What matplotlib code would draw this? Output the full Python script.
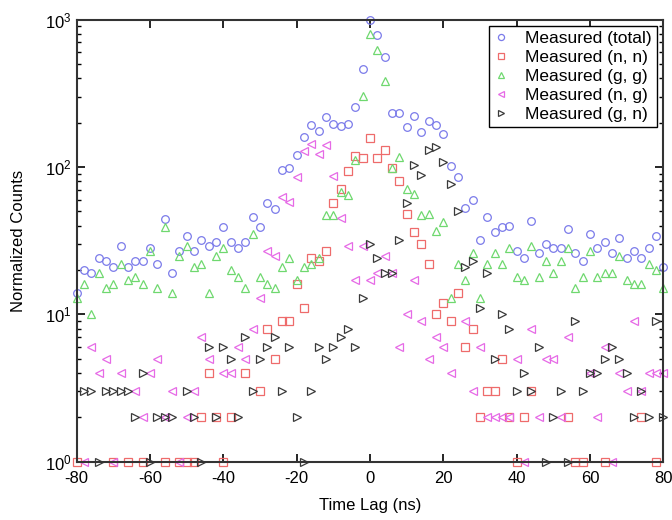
import numpy as np
import matplotlib
matplotlib.use("Agg")
import matplotlib.pyplot as plt

plt.rcParams['font.family'] = ['Liberation Sans', 'DejaVu Sans']
plt.rcParams['axes.unicode_minus'] = False

n = np.nan
time_lag = np.arange(-80, 81, 2)

total = [14, 20, 19, 24, 23, 21, 29, 21, 23, 23, 28, 22, 44, 19, 27, 34, 27, 32, 29, 31,
         39, 31, 28, 31, 46, 39, 57, 52, 96, 98, 121, 160, 191, 175, 218, 197, 190, 195, 253, 458,
         1000, 782, 557, 232, 232, 186, 221, 172, 206, 191, 168, 101, 86, 53, 60, 32, 46, 36, 39, 40,
         27, 24, 43, 26, 30, 28, 28, 38, 26, 23, 35, 28, 31, 26, 33, 24, 27, 24, 28, 34, 21]

nn = [1, n, n, n, n, 1, n, 1, n, 1, n, n, 1, n, 1, 1, 1, 2, 4, 2,
      1, 2, n, 4, n, 3, 8, 5, 9, 9, 16, 11, 24, 23, 27, 57, 71, 94, 118, 115,
      156, 115, 130, 98, 80, 48, 36, 30, 22, 10, 12, 9, 14, 6, 8, 2, 3, 3, 5, 2,
      1, 2, 3, n, n, n, n, 2, 1, 1, n, n, 1, n, n, n, n, 2, n, 1, n]

gg = [13, 16, 10, 19, 15, 16, 22, 17, 18, 16, 27, 15, 39, 14, 25, 29, 21, 22, 14, 25,
      28, 20, 18, 15, 35, 18, 16, 15, 21, 24, 17, 21, 22, 24, 47, 47, 68, 65, 111, 303,
      800, 625, 383, 98, 116, 71, 66, 47, 48, 37, 42, 13, 22, 17, 26, 13, 22, 26, 22, 28,
      18, 17, 29, 18, 23, 19, 23, 28, 15, 18, 27, 18, 19, 19, 25, 17, 16, 16, 22, 20, 15]

ng = [n, 1, 6, 4, 5, 1, 4, n, 3, 2, 4, 5, 2, 3, 1, 2, 3, 7, 5, n,
      4, 4, 6, 5, 8, 13, 27, 25, 63, 58, 86, 128, 143, 122, 140, 87, 45, 29, 17, 29,
      17, 19, 25, 19, 6, 10, 17, 9, 5, 7, 6, 4, n, 9, 3, 6, 2, 2, 2, 2,
      5, 1, 8, 2, 5, 5, 2, 7, n, n, 4, 2, 6, 1, 4, 3, 9, 3, 4, 4, 4]

gn = [n, 3, 3, 1, 3, 3, 3, 3, 2, 4, 1, 2, 2, 2, n, 3, 2, 1, 6, 2,
      6, 5, 2, 7, 3, 5, 6, 7, 3, 6, 2, 1, 3, 6, 5, 6, 7, 8, 6, 13,
      30, 24, 19, 19, 32, 57, 103, 88, 130, 137, 108, 76, 50, 21, 23, 11, 19, 5, 10, 8,
      3, 4, 3, 6, 1, 2, 3, 1, 9, 3, 4, 4, 5, 6, 5, 4, 2, 3, 2, 9, 2]

series = [
    (total, 'o', '#7b7bea', 'Measured (total)'),
    (nn, 's', '#ee6b6b', 'Measured (n, n)'),
    (gg, '^', '#6fd86f', 'Measured (g, g)'),
    (ng, '<', '#e66ae6', 'Measured (n, g)'),
    (gn, '>', '#3a3a3a', 'Measured (g, n)'),
]

fig = plt.figure(figsize=(6.72, 5.2), dpi=100)
ax = fig.add_axes([0.114, 0.112, 0.873, 0.8505])

for values, marker, color, label in series:
    ax.plot(time_lag, values, linestyle='none', marker=marker, markersize=5.5,
            markerfacecolor='none', markeredgecolor=color, markeredgewidth=0.9,
            label=label, clip_on=False)

ax.set_yscale('log')
ax.set_xlim(-80, 80)
ax.set_ylim(1, 1000)
ax.set_xticks(np.arange(-80, 81, 20))
ax.tick_params(which='both', direction='in', top=True, right=True, labelsize=12)
ax.tick_params(which='major', length=6, width=1.2)
ax.tick_params(which='minor', length=3, width=1.0)
ax.tick_params(axis='x', pad=7)
for sp in ax.spines.values():
    sp.set_linewidth(1.5)
    sp.set_color('#333333')

ax.set_xlabel('Time Lag (ns)', fontsize=12, labelpad=8)
ax.set_ylabel('Normalized Counts', fontsize=12, labelpad=14)

leg = ax.legend(loc='upper right', fontsize=12.5, frameon=True, fancybox=False,
                edgecolor='black', framealpha=1, borderpad=0.3, labelspacing=0.22,
                handlelength=0.8, handletextpad=1.0, borderaxespad=0.35, markerscale=0.8)
leg.get_frame().set_linewidth(1.0)

fig.savefig('out.png', dpi=100)
